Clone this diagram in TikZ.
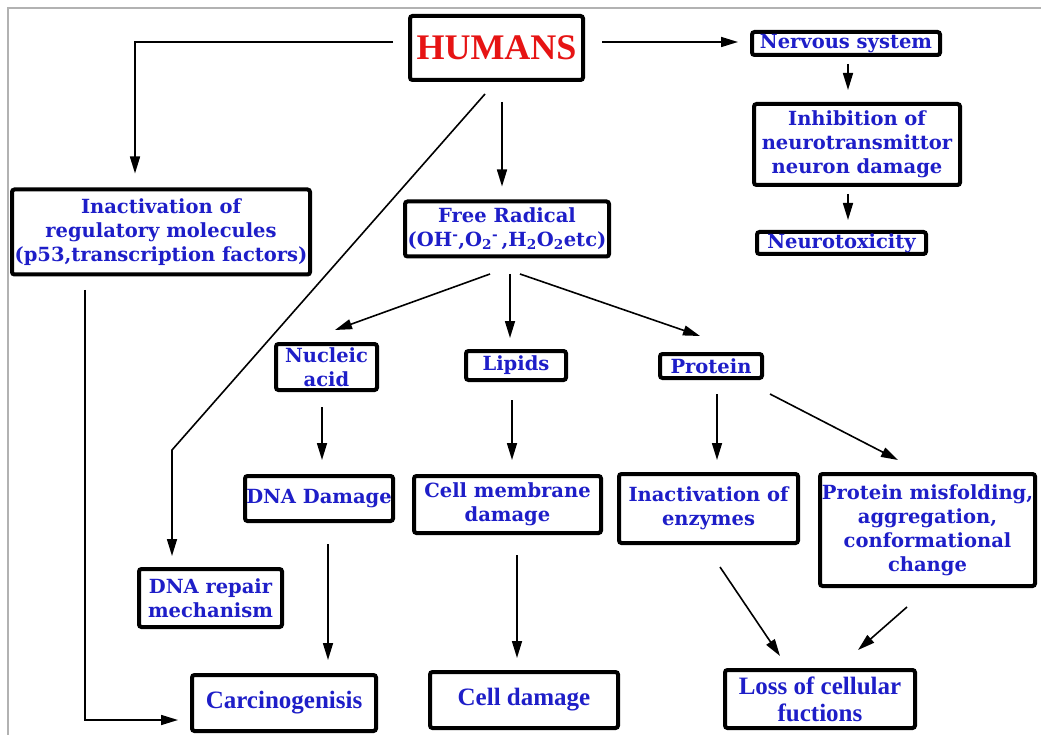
\documentclass[tikz,border=0pt]{standalone}
\usepackage{fontspec}
\setmainfont{DejaVu Serif}
\newfontfamily\timesf{Liberation Serif}
\usetikzlibrary{arrows.meta,calc}
\definecolor{txtblue}{RGB}{30,30,200}
\definecolor{humred}{RGB}{230,20,20}
\begin{document}
\begin{tikzpicture}[x=1pt,y=-1pt,
 box/.style={draw=black,line width=4pt,rounded corners=2.5pt,fill=white,inner sep=0pt,align=center,
   font=\bfseries\fontsize{19.5}{24}\selectfont,text=txtblue},
 tbox/.style={box,font=\timesf\bfseries\fontsize{25}{27}\selectfont},
 arr/.style={line width=1.6pt,-{Triangle[length=17pt,width=10pt]}},
 frame/.style={draw=gray!60,line width=1.2pt}
]
\useasboundingbox (0,0) rectangle (1041,735);
\draw[frame] (8,735) -- (8,8) -- (1041,8);

\node[box,minimum width=173pt,minimum height=64pt,text=humred,font=\timesf\bfseries\fontsize{36}{38}\selectfont] (hum) at (496.5,48) {HUMANS};
\node[box,minimum width=188pt,minimum height=23pt] (nerv) at (846,43.5) {Nervous system};
\node[box,minimum width=206pt,minimum height=81pt] (inh) at (857,144.5) {Inhibition of\\neurotransmittor\\neuron damage};
\node[box,minimum width=169pt,minimum height=22pt] (ntx) at (841.5,243) {Neurotoxicity};
\node[box,minimum width=298pt,minimum height=85pt] (reg) at (161,232) {Inactivation of\\regulatory molecules\\(p53,transcription factors)};
\node[box,minimum width=204pt,minimum height=55pt] (fr) at (507,229) {Free Radical\\(OH\textsuperscript{-},O\textsubscript{2}\textsuperscript{-}\,,H\textsubscript{2}O\textsubscript{2}etc)};
\node[box,minimum width=101pt,minimum height=46pt] (nuc) at (326.5,367) {Nucleic\\acid};
\node[box,minimum width=100pt,minimum height=29pt] (lip) at (516,365.5) {Lipids};
\node[box,minimum width=102pt,minimum height=24pt] (pro) at (711,366) {Protein};
\node[box,minimum width=148pt,minimum height=45pt] (dnad) at (319,498.5) {DNA Damage};
\node[box,minimum width=143pt,minimum height=58pt] (rep) at (210.5,598) {DNA repair\\mechanism};
\node[box,minimum width=187pt,minimum height=57pt] (cmd) at (507.5,504.5) {Cell membrane\\damage};
\node[box,minimum width=179pt,minimum height=69pt] (enz) at (708.5,508.5) {Inactivation of\\enzymes};
\node[box,minimum width=215pt,minimum height=112pt] (mis) at (927.5,530) {Protein misfolding,\\aggregation,\\conformational\\change};
\node[tbox,minimum width=184pt,minimum height=56pt] (car) at (284,703) {Carcinogenisis};
\node[tbox,minimum width=188pt,minimum height=56pt] (cdm) at (524,700) {Cell damage};
\node[tbox,minimum width=190pt,minimum height=58pt] (loss) at (820,699) {Loss of cellular\\fuctions};

\draw[arr] ($(hum.west)+(-15,-6)$) -| ($(reg.north)+(-26,-14)$);
\draw[arr] ($(hum.east)+(17,-6)$) -- ($(nerv.west)+(-12,-1.5)$);
\draw[arr] ($(hum.south)+(5.5,20)$) -- ($(fr.north)+(-5,-13)$);
\draw[arr] ($(hum.south)+(-11.5,12)$) -- ($(rep.north)+(-38.5,-117)$) -- ($(rep.north)+(-38.5,-11)$);
\draw[arr] ($(nerv.south)+(2,7)$) -- ($(inh.north)+(-9,-12)$);
\draw[arr] ($(inh.south)+(-9,7)$) -- ($(ntx.north)+(6.5,-10)$);
\draw[arr] ($(fr.south)+(-17,15.5)$) -- ($(nuc.north)+(8.5,-12)$);
\draw[arr] ($(fr.south)+(3,15.5)$) -- ($(lip.north)+(-6,-11)$);
\draw[arr] ($(fr.south)+(13,15.5)$) -- ($(pro.north)+(-11,-16)$);
\draw[arr] ($(nuc.south)+(-4.5,15)$) -- ($(dnad.north)+(3,-14)$);
\draw[arr] ($(lip.south)+(-4,18)$) -- ($(cmd.north)+(4.5,-14)$);
\draw[arr] ($(pro.south)+(6,14)$) -- ($(enz.north)+(8.5,-12)$);
\draw[arr] ($(pro.south)+(59,14)$) -- ($(mis.north)+(-29.5,-12)$);
\draw[arr] ($(dnad.south)+(9,21)$) -- ($(car.north)+(44,-13)$);
\draw[arr] ($(cmd.south)+(9.5,20)$) -- ($(cdm.north)+(-7,-12)$);
\draw[arr] ($(enz.south)+(11.5,22)$) -- ($(loss.north)+(-40,-12)$);
\draw[arr] ($(mis.south)+(-20.5,19)$) -- ($(loss.north)+(38,-18)$);
\draw[arr] ($(reg.south)+(-76,13.5)$) |- ($(car.west)+(-12,17)$);
\end{tikzpicture}
\end{document}
